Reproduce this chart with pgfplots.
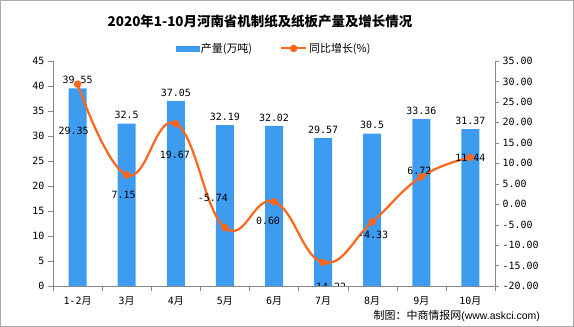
\documentclass[border=0pt]{standalone}
\usepackage{fontspec}
\usepackage{pgfplots}
\pgfplotsset{compat=1.18}
\setmainfont{DejaVu Sans}
\newfontfamily\cjk{Noto Sans CJK SC}
\newfontfamily\num{DejaVu Sans Mono}
\newfontfamily\lsans{Liberation Sans}
\definecolor{barblue}{RGB}{62,156,240}
\definecolor{lineor}{RGB}{255,102,26}
\definecolor{axgray}{RGB}{136,136,136}
\begin{document}
\begin{tikzpicture}
\useasboundingbox (-53bp,-41bp) rectangle (521bp,286bp);
\draw[color={rgb,255:red,170;green,170;blue,170}] (-52.5bp,-40.5bp) rectangle (520.5bp,285.5bp);
\begin{axis}[
  at={(0,0)}, anchor=south west,
  scale only axis, width=442bp, height=225bp,
  xmin=-0.5, xmax=8.5, ymin=0, ymax=45,
  axis y line*=left, axis x line*=bottom,
  axis line style={draw=axgray, line width=0.8bp, -},
  xtick={0,...,8},
  xticklabels={{1-2\cjk 月},{3\cjk 月},{4\cjk 月},{5\cjk 月},{6\cjk 月},{7\cjk 月},{8\cjk 月},{9\cjk 月},{10\cjk 月}},
  minor xtick={-0.5,0.5,...,8.5},
  major x tick style={draw=none},
  minor x tick style={draw=axgray},
  ytick={0,5,...,45},
  y tick style={draw=axgray},
  tick align=outside,
  major tick length=5bp, minor tick length=5bp,
  /pgf/number format/assume math mode=true,
  ticklabel style={font=\num\fontsize{10}{12}\selectfont, text=black},
  xticklabel style={yshift=-2bp},
  ybar, bar width=18bp,
  point meta=explicit symbolic,
  nodes near coords,
  every node near coord/.append style={font=\num\fontsize{10}{12}\selectfont, text=black, yshift=1bp},
]
\addplot[fill=barblue, draw=none] coordinates {
 (0,39.55) [39.55]
 (1,32.5) [32.5]
 (2,37.05) [37.05]
 (3,32.19) [32.19]
 (4,32.02) [32.02]
 (5,29.57) [29.57]
 (6,30.5) [30.5]
 (7,33.36) [33.36]
 (8,31.37) [31.37]
};
\end{axis}
\begin{axis}[
  at={(0,0)}, anchor=south west,
  scale only axis, width=442bp, height=225bp,
  xmin=-0.5, xmax=8.5, ymin=-20, ymax=35,
  axis y line*=right, axis x line=none,
  axis line style={draw=axgray, line width=0.8bp, -},
  ytick={-20,-15,...,35},
  y tick style={draw=axgray},
  tick align=outside, major tick length=4bp,
  /pgf/number format/assume math mode=true,
  /pgf/number format/fixed, /pgf/number format/fixed zerofill, /pgf/number format/precision=2,
  ticklabel style={font=\num\fontsize{10}{12}\selectfont, text=black},
  legend columns=2,
  legend style={at={(0.5,1)}, anchor=south, yshift=3bp, draw=none, fill=none,
    font=\cjk\fontsize{11}{13}\selectfont,
    /tikz/every even column/.append style={column sep=26bp}},
]
\addlegendimage{legend image code/.code={\fill[barblue] (0bp,-2.5bp) rectangle (23bp,2.5bp);}}
\addlegendentry{产量(万吨)}
\addplot[color=lineor, line width=2.2bp, smooth, tension=0.75, mark=*, mark size=2.6bp, mark options={fill=lineor, draw=lineor},
  legend image code/.code={\draw[lineor,line width=2bp] (0bp,0bp) -- (25bp,0bp); \fill[lineor] (12.5bp,0bp) circle (2.6bp);}]
coordinates {
 (0,29.35) (1,7.15) (2,19.67) (3,-5.74) (4,0.60) (5,-14.22) (6,-4.33) (7,6.72) (8,11.44)
};
\addlegendentry{同比增长(\%)}
\begin{scope}[every node/.style={font=\num\fontsize{10}{12}\selectfont, text=black}]
\node at (axis cs:0,29.35) [xshift=-4bp, yshift=-47bp] {29.35};
\node at (axis cs:1,7.15) [xshift=-3bp, yshift=-20bp] {7.15};
\node at (axis cs:2,19.67) [xshift=-1bp, yshift=-31bp] {19.67};
\node at (axis cs:3,-5.74) [xshift=-12bp, yshift=30bp] {-5.74};
\node at (axis cs:4,0.60) [xshift=-6bp, yshift=-19bp] {0.60};
\node at (axis cs:5,-14.22) [xshift=5bp, yshift=-24bp] {-14.22};
\node at (axis cs:6,-4.33) [xshift=1bp, yshift=-13bp] {-4.33};
\node at (axis cs:7,6.72) [xshift=-2bp, yshift=6bp] {6.72};
\node at (axis cs:8,11.44) [xshift=0bp, yshift=0bp] {11.44};
\end{scope}
\end{axis}
\node[font=\cjk\bfseries\fontsize{13.5}{15}\selectfont] at (207bp,265bp) {2020年1-10月河南省机制纸及纸板产量及增长情况};
\node[anchor=east, inner sep=0pt] at (487bp,-30bp) {\cjk\fontsize{11}{13}\selectfont 制图：中商情报网\lsans\fontsize{10.5}{13}\selectfont(www.askci.com)};
\end{tikzpicture}
\end{document}
